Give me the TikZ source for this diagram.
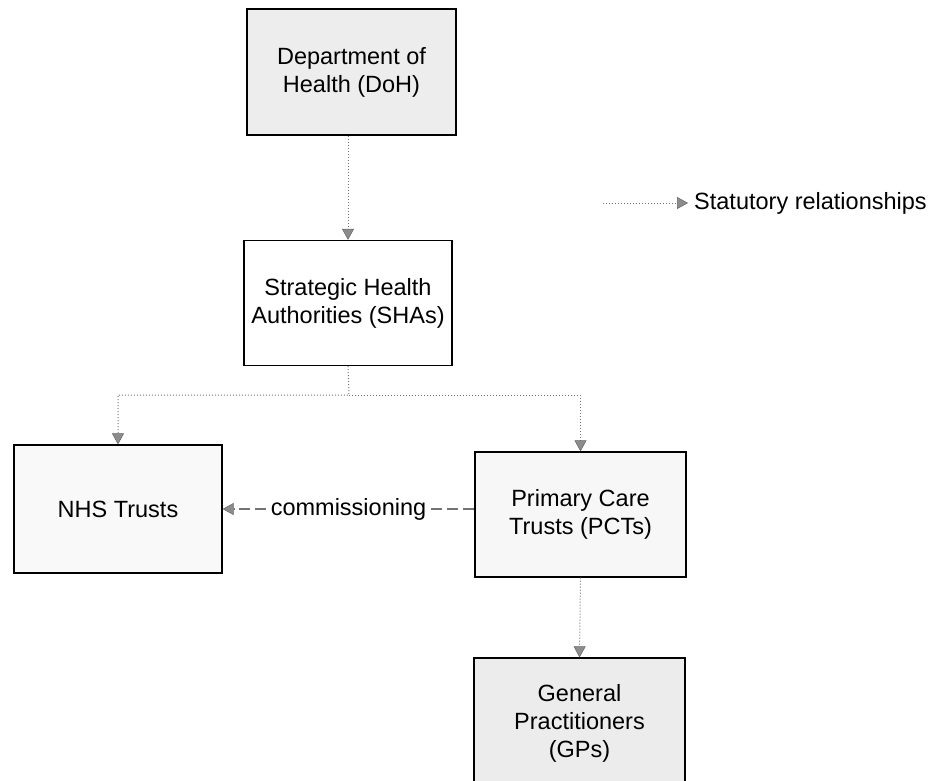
\documentclass[tikz,border=0pt]{standalone}
\usepackage{fontspec}
\setmainfont{Liberation Sans}
\usetikzlibrary{arrows.meta}
\begin{document}
\begin{tikzpicture}[x=1pt,y=-1pt,
  box/.style={draw=black, line width=1.3pt, align=center,
    font=\fontsize{23.5}{28}\selectfont, inner sep=0pt},
  tip/.style={-{Triangle[width=12pt,length=11pt,fill=black!45,color=black!60,line width=0.5pt]}},
  stat/.style={tip, draw=black!55, line width=1pt, dotted},
  comm/.style={tip, draw=black!55, line width=1.8pt, dash pattern=on 11pt off 5pt},
  lbl/.style={font=\fontsize{23.5}{28}\selectfont, inner sep=0pt}
]
\useasboundingbox (0,0) rectangle (932,781);

\node[box, fill=gray!14, minimum width=209pt, minimum height=126pt] (doh) at (351.5,72) {Department of\\Health (DoH)};
\node[box, fill=white, minimum width=208pt, minimum height=125pt] (sha) at (348,303) {Strategic Health\\Authorities (SHAs)};
\node[box, fill=gray!5, minimum width=208pt, minimum height=128pt] (nhs) at (118,509) {NHS Trusts};
\node[box, fill=gray!6, minimum width=211pt, minimum height=125pt] (pct) at (580.5,514.5) {Primary Care\\Trusts (PCTs)};
\node[box, fill=gray!15, minimum width=211pt, minimum height=130pt] (gp) at (579.5,723) {General\\Practitioners\\(GPs)};

\draw[stat] (doh.south -| sha.south) -- (sha.north);
\coordinate (split) at (349,395);
\draw[stat] (sha.south) -- (split) -| (nhs.north);
\draw[stat] (split) -| (pct.north);
\draw[stat] (pct.south) -- (gp.north);

\draw[comm] (pct.west |- nhs.east) -- node[lbl, fill=white, inner xsep=5pt, inner ysep=3pt] (commlbl) {commissioning} (nhs.east);

\coordinate (legA) at (603,203);
\coordinate (legB) at (688,203);
\draw[stat] (legA) -- (legB);
\node[lbl, anchor=west] (legtxt) at (694,203) {Statutory relationships};
\end{tikzpicture}
\end{document}
